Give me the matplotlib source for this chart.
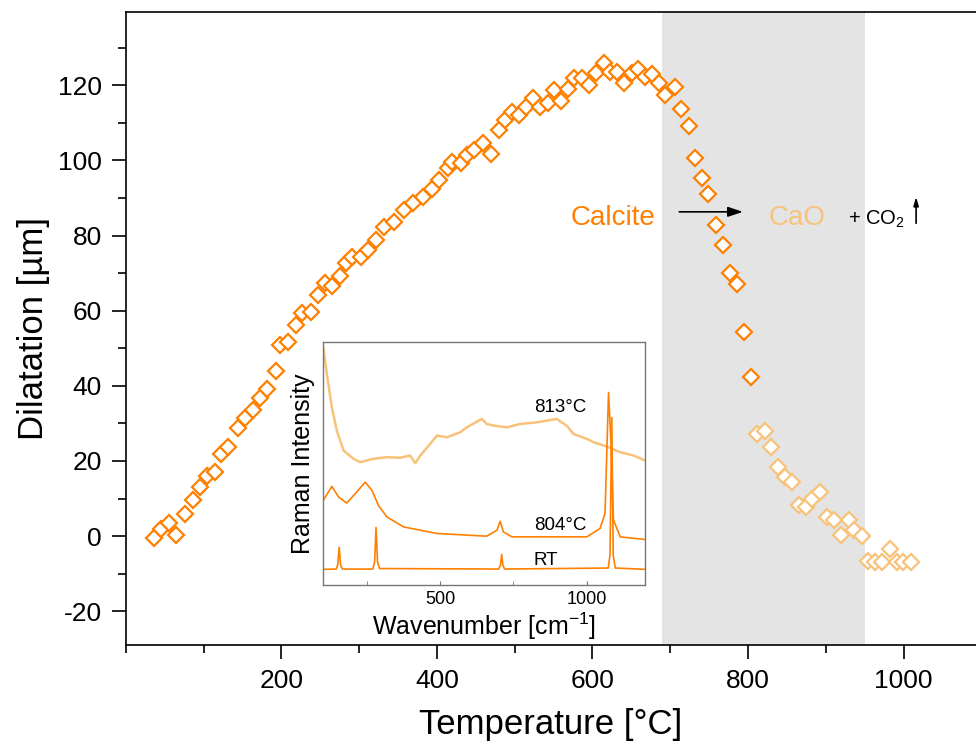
import matplotlib
matplotlib.use("Agg")
import matplotlib.pyplot as plt
from matplotlib.ticker import MultipleLocator

plt.rcParams['font.family'] = ['Liberation Sans', 'DejaVu Sans']
plt.rcParams['mathtext.fontset'] = 'custom'
plt.rcParams['mathtext.rm'] = 'Liberation Sans'
plt.rcParams['mathtext.default'] = 'regular'
plt.rcParams['axes.unicode_minus'] = False

DARK = '#ff8000'
LIGHT = '#f8c27a'

# dilatation, calcite part (up to 804 C)
temp_calcite = [36, 46, 56, 65, 76, 86, 95, 104, 115, 123, 132, 144, 153, 163, 172, 182, 193,
                198, 208, 219, 227, 238, 247, 256, 265, 275, 283, 291, 303, 311, 322,
                332, 345, 358, 369, 382, 394, 403, 414, 420, 431, 439, 448,
                459, 469, 480, 488, 496, 506, 514, 524, 532, 543, 550, 560, 569, 576, 587,
                595, 605, 615, 623, 632, 641, 651, 659, 668, 677, 686, 693,
                706, 714, 724, 732, 741, 749, 759, 768, 777, 786, 795, 804]
dil_calcite = [-0.5, 1.9, 3.5, 0.3, 5.9, 9.6, 13.0, 16.0, 17.0, 21.8, 23.7, 28.7, 31.4, 33.5, 36.7, 39.1, 43.9,
               50.8, 51.7, 56.2, 59.4, 59.7, 64.1, 67.3, 66.5, 69.2, 72.7, 74.3, 74.3, 76.1, 78.8,
               82.2, 83.7, 86.8, 88.6, 90.3, 92.5, 94.8, 97.9, 99.6, 99.2, 101.4, 102.7,
               104.5, 101.7, 108.1, 110.7, 112.9, 112.2, 114.1, 116.7, 114.3, 115.2, 118.7, 115.8, 118.9, 121.8, 121.8,
               120.0, 123.3, 125.8, 123.6, 123.6, 120.5, 123.3, 124.2, 122.3, 123.0, 120.5, 117.4,
               119.6, 113.6, 109.1, 100.5, 95.2, 91.0, 82.8, 77.5, 69.9, 67.1, 54.4, 42.4]

# dilatation, CaO part (from 813 C)
temp_cao = [811, 822, 830, 839, 847, 857, 865, 874, 882, 892, 901, 911, 920, 930, 936, 947,
            954, 963, 972, 982, 991, 999, 1009]
dil_cao = [27.1, 28.0, 23.8, 18.3, 15.6, 14.5, 8.3, 7.8, 10.0, 11.8, 5.0, 4.4, 0.3, 4.3, 1.6, 0.0,
           -6.6, -6.8, -6.8, -3.5, -6.8, -6.8, -6.8]

# inset raman spectra (arb. units)
wn_rt = [100, 145, 150, 155, 160, 166, 270, 276, 281, 286, 293, 700, 706, 710, 714, 720,
         1074, 1080, 1086, 1091, 1098, 1200]
int_rt = [15.7, 16, 20, 37.7, 20, 16, 16, 23, 57.7, 23, 16.5, 16, 20, 30.7, 20, 16,
          17, 30, 168, 30, 17, 15.7]

wn_804 = [101, 130, 153, 181, 210, 244, 267, 289, 318, 375, 489, 659, 694, 705, 716, 745,
          1001, 1046, 1063, 1075, 1083, 1092, 1115, 1200]
int_804 = [85, 99, 88.3, 82.3, 91.7, 103.3, 95, 80, 68.3, 58.3, 51.7, 49, 55, 64, 53.3, 48.3,
           48.3, 56.7, 71.7, 193.3, 145, 65, 48.3, 45.7]

wn_813 = [101, 113, 130, 147, 170, 204, 227, 272, 318, 363, 397, 415, 432, 466, 489, 523,
          568, 591, 642, 659, 682, 728, 773, 830, 898, 932, 955, 1001, 1024, 1069, 1115, 1160, 1200]
int_813 = [238, 211.7, 178.3, 155, 135, 126.7, 123.3, 126.7, 128.3, 127.7, 130, 122.3, 130, 141.7, 150, 148.3,
           153.3, 158.3, 166.7, 161.7, 160, 158.3, 161.7, 163.3, 166.7, 160, 151.7, 146.7, 143.3, 139, 133.3, 130, 125]

fig = plt.figure(figsize=(9.76, 7.47), dpi=100)
ax = fig.add_axes([0.1288, 0.1365, 0.8712, 0.8475])

ax.axvspan(690, 950, color='#e4e4e4', lw=0, zorder=0)
ax.plot(temp_calcite, dil_calcite, 'D', ms=8.2, mfc='white', mec=DARK, mew=1.6, zorder=3)
ax.plot(temp_cao, dil_cao, 'D', ms=8.2, mfc='white', mec=LIGHT, mew=1.6, zorder=3)

ax.set_xlim(0, 1093)
ax.set_ylim(-29, 139.5)
ax.xaxis.set_major_locator(MultipleLocator(200))
ax.xaxis.set_minor_locator(MultipleLocator(100))
ax.yaxis.set_major_locator(MultipleLocator(20))
ax.yaxis.set_minor_locator(MultipleLocator(10))
ax.tick_params(which='major', direction='out', length=10, width=1.2, labelsize=19, pad=7)
ax.tick_params(which='minor', direction='out', length=6, width=1.2)
ax.tick_params(top=False, right=False)
ax.spines['right'].set_visible(False)
for s in ['left', 'bottom', 'top']:
    ax.spines[s].set_linewidth(1.2)
ax.set_xticks([200, 400, 600, 800, 1000])
ax.set_xlabel('Temperature [°C]', fontsize=25, labelpad=11)
ax.set_ylabel('Dilatation [µm]', fontsize=25, labelpad=6)

# reaction annotation
ax.text(681, 82.8, 'Calcite', color=DARK, fontsize=20, ha='right', va='baseline')
ax.annotate('', xy=(797, 86.3), xytext=(708, 86.3),
            arrowprops=dict(arrowstyle='-|>,head_length=0.9,head_width=0.3', color='black', lw=1.2))
ax.text(826, 82.8, 'CaO', color=LIGHT, fontsize=20, ha='left', va='baseline')
ax.text(929, 83.0, '+ CO$_2$', color='black', fontsize=14.5, ha='left', va='baseline')
ax.annotate('', xy=(1016, 91.0), xytext=(1016, 82.5),
            arrowprops=dict(arrowstyle='-|>,head_length=0.5,head_width=0.15', color='black', lw=1.2))

# inset
ax_in = fig.add_axes([0.331, 0.2169, 0.330, 0.3253])
ax_in.plot(wn_813, int_813, color=LIGHT, lw=1.8)
ax_in.plot(wn_804, int_804, color=DARK, lw=1.2)
ax_in.plot(wn_rt, int_rt, color=DARK, lw=1.2)
ax_in.set_xlim(100, 1200)
ax_in.set_ylim(0, 244)
ax_in.set_yticks([])
ax_in.xaxis.set_major_locator(MultipleLocator(500))
ax_in.xaxis.set_minor_locator(MultipleLocator(250))
ax_in.tick_params(which='both', direction='in', length=3, labelsize=13, color='#777777', pad=4)
for s in ax_in.spines.values():
    s.set_color('#777777')
    s.set_linewidth(1.0)
ax_in.text(910, 178, '813°C', fontsize=13.5, ha='center', va='center')
ax_in.text(910, 60, '804°C', fontsize=13.5, ha='center', va='center')
ax_in.text(861, 25, 'RT', fontsize=13.5, ha='center', va='center')
ax_in.set_xlabel('Wavenumber [cm$^{-1}$]', fontsize=18, labelpad=2)
ax_in.set_ylabel('Raman Intensity', fontsize=18, labelpad=6)

fig.savefig('out.png', dpi=100)
